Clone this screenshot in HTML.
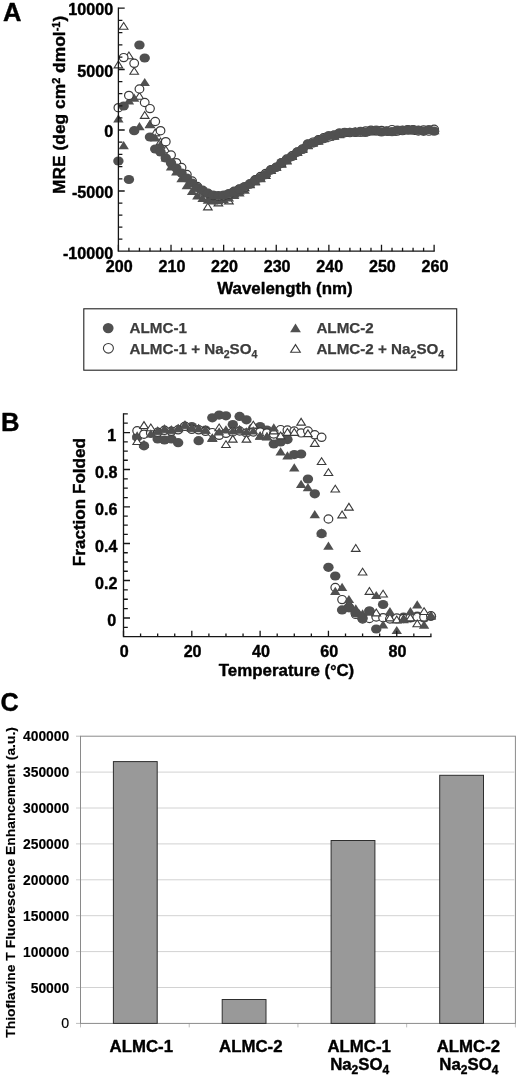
<!DOCTYPE html>
<html lang="en"><head><meta charset="utf-8"><title>Figure</title>
<style>
html,body{margin:0;padding:0;background:#fff;}
body{width:520px;height:1076px;overflow:hidden;font-family:"Liberation Sans", sans-serif;}
svg{display:block;will-change:transform;filter:grayscale(1);}
text{font-family:"Liberation Sans", sans-serif;font-weight:bold;fill:#000;stroke:#000;stroke-width:0.4px;stroke-linejoin:round;}
.t156{font-size:16.1px}.t17{font-size:17.4px}.t17x{font-size:16.9px}.t168{font-size:17.1px}.t137{font-size:13.85px;stroke-width:0.15px}.t1375{font-size:13px;stroke-width:0.15px}.t165{font-size:16.8px}
.lg{font-size:15.2px;fill:#3c3c3c;stroke:#3c3c3c;stroke-width:0.25px}.panel{fill:#000}
</style></head><body>
<svg width="520" height="1076" viewBox="0 0 520 1076">
<rect width="520" height="1076" fill="#fff"/>
<g id="panelA">
<polygon points="118.4,61.05 114.1,67.85 122.7,67.85" fill="#fff" stroke="#3a3a3a" stroke-width="1.1" stroke-linejoin="miter"/>
<polygon points="123.66,22.45 119.36,29.25 127.96,29.25" fill="#fff" stroke="#3a3a3a" stroke-width="1.1" stroke-linejoin="miter"/>
<polygon points="128.92,51.95 124.62,58.75 133.22,58.75" fill="#fff" stroke="#3a3a3a" stroke-width="1.1" stroke-linejoin="miter"/>
<polygon points="134.19,67.45 129.89,74.25 138.49,74.25" fill="#fff" stroke="#3a3a3a" stroke-width="1.1" stroke-linejoin="miter"/>
<polygon points="139.45,92.45 135.15,99.25 143.75,99.25" fill="#fff" stroke="#3a3a3a" stroke-width="1.1" stroke-linejoin="miter"/>
<polygon points="144.71,111.55 140.41,118.35 149.01,118.35" fill="#fff" stroke="#3a3a3a" stroke-width="1.1" stroke-linejoin="miter"/>
<polygon points="149.97,120.55 145.67,127.35 154.27,127.35" fill="#fff" stroke="#3a3a3a" stroke-width="1.1" stroke-linejoin="miter"/>
<polygon points="155.23,129.05 150.93,135.85 159.53,135.85" fill="#fff" stroke="#3a3a3a" stroke-width="1.1" stroke-linejoin="miter"/>
<polygon points="160.5,138.05 156.2,144.85 164.8,144.85" fill="#fff" stroke="#3a3a3a" stroke-width="1.1" stroke-linejoin="miter"/>
<polygon points="165.76,146.05 161.46,152.85 170.06,152.85" fill="#fff" stroke="#3a3a3a" stroke-width="1.1" stroke-linejoin="miter"/>
<polygon points="171.02,154.05 166.72,160.85 175.32,160.85" fill="#fff" stroke="#3a3a3a" stroke-width="1.1" stroke-linejoin="miter"/>
<polygon points="176.28,161.05 171.98,167.85 180.58,167.85" fill="#fff" stroke="#3a3a3a" stroke-width="1.1" stroke-linejoin="miter"/>
<polygon points="181.54,167.05 177.24,173.85 185.84,173.85" fill="#fff" stroke="#3a3a3a" stroke-width="1.1" stroke-linejoin="miter"/>
<polygon points="186.81,173.05 182.51,179.85 191.11,179.85" fill="#fff" stroke="#3a3a3a" stroke-width="1.1" stroke-linejoin="miter"/>
<polygon points="192.07,179.05 187.77,185.85 196.37,185.85" fill="#fff" stroke="#3a3a3a" stroke-width="1.1" stroke-linejoin="miter"/>
<polygon points="197.33,184.05 193.03,190.85 201.63,190.85" fill="#fff" stroke="#3a3a3a" stroke-width="1.1" stroke-linejoin="miter"/>
<polygon points="202.59,189.05 198.29,195.85 206.89,195.85" fill="#fff" stroke="#3a3a3a" stroke-width="1.1" stroke-linejoin="miter"/>
<polygon points="207.85,203.05 203.55,209.85 212.15,209.85" fill="#fff" stroke="#3a3a3a" stroke-width="1.1" stroke-linejoin="miter"/>
<polygon points="213.12,196.05 208.82,202.85 217.42,202.85" fill="#fff" stroke="#3a3a3a" stroke-width="1.1" stroke-linejoin="miter"/>
<polygon points="218.38,199.05 214.08,205.85 222.68,205.85" fill="#fff" stroke="#3a3a3a" stroke-width="1.1" stroke-linejoin="miter"/>
<polygon points="223.64,195.05 219.34,201.85 227.94,201.85" fill="#fff" stroke="#3a3a3a" stroke-width="1.1" stroke-linejoin="miter"/>
<polygon points="228.9,197.05 224.6,203.85 233.2,203.85" fill="#fff" stroke="#3a3a3a" stroke-width="1.1" stroke-linejoin="miter"/>
<polygon points="234.16,190.05 229.86,196.85 238.46,196.85" fill="#fff" stroke="#3a3a3a" stroke-width="1.1" stroke-linejoin="miter"/>
<polygon points="239.43,187.05 235.13,193.85 243.73,193.85" fill="#fff" stroke="#3a3a3a" stroke-width="1.1" stroke-linejoin="miter"/>
<polygon points="244.69,183.98 240.39,190.78 248.99,190.78" fill="#fff" stroke="#3a3a3a" stroke-width="1.1" stroke-linejoin="miter"/>
<polygon points="249.95,180.32 245.65,187.12 254.25,187.12" fill="#fff" stroke="#3a3a3a" stroke-width="1.1" stroke-linejoin="miter"/>
<polygon points="255.21,177.6 250.91,184.4 259.51,184.4" fill="#fff" stroke="#3a3a3a" stroke-width="1.1" stroke-linejoin="miter"/>
<polygon points="260.47,174.5 256.17,181.3 264.77,181.3" fill="#fff" stroke="#3a3a3a" stroke-width="1.1" stroke-linejoin="miter"/>
<polygon points="265.74,171.7 261.44,178.5 270.04,178.5" fill="#fff" stroke="#3a3a3a" stroke-width="1.1" stroke-linejoin="miter"/>
<polygon points="271,166.54 266.7,173.34 275.3,173.34" fill="#fff" stroke="#3a3a3a" stroke-width="1.1" stroke-linejoin="miter"/>
<polygon points="276.26,163.11 271.96,169.91 280.56,169.91" fill="#fff" stroke="#3a3a3a" stroke-width="1.1" stroke-linejoin="miter"/>
<polygon points="281.52,160.35 277.22,167.15 285.82,167.15" fill="#fff" stroke="#3a3a3a" stroke-width="1.1" stroke-linejoin="miter"/>
<polygon points="286.78,157.11 282.48,163.91 291.08,163.91" fill="#fff" stroke="#3a3a3a" stroke-width="1.1" stroke-linejoin="miter"/>
<polygon points="292.05,152.66 287.75,159.46 296.35,159.46" fill="#fff" stroke="#3a3a3a" stroke-width="1.1" stroke-linejoin="miter"/>
<polygon points="297.31,148.24 293.01,155.04 301.61,155.04" fill="#fff" stroke="#3a3a3a" stroke-width="1.1" stroke-linejoin="miter"/>
<polygon points="302.57,145.71 298.27,152.51 306.87,152.51" fill="#fff" stroke="#3a3a3a" stroke-width="1.1" stroke-linejoin="miter"/>
<polygon points="307.83,141.59 303.53,148.39 312.13,148.39" fill="#fff" stroke="#3a3a3a" stroke-width="1.1" stroke-linejoin="miter"/>
<polygon points="313.09,138.33 308.79,145.13 317.39,145.13" fill="#fff" stroke="#3a3a3a" stroke-width="1.1" stroke-linejoin="miter"/>
<polygon points="318.36,137.5 314.06,144.3 322.66,144.3" fill="#fff" stroke="#3a3a3a" stroke-width="1.1" stroke-linejoin="miter"/>
<polygon points="323.62,134.91 319.32,141.71 327.92,141.71" fill="#fff" stroke="#3a3a3a" stroke-width="1.1" stroke-linejoin="miter"/>
<polygon points="328.88,133.2 324.58,140 333.18,140" fill="#fff" stroke="#3a3a3a" stroke-width="1.1" stroke-linejoin="miter"/>
<polygon points="334.14,132.04 329.84,138.84 338.44,138.84" fill="#fff" stroke="#3a3a3a" stroke-width="1.1" stroke-linejoin="miter"/>
<polygon points="339.4,130.52 335.1,137.32 343.7,137.32" fill="#fff" stroke="#3a3a3a" stroke-width="1.1" stroke-linejoin="miter"/>
<polygon points="344.67,129.29 340.37,136.09 348.97,136.09" fill="#fff" stroke="#3a3a3a" stroke-width="1.1" stroke-linejoin="miter"/>
<polygon points="349.93,128.51 345.63,135.31 354.23,135.31" fill="#fff" stroke="#3a3a3a" stroke-width="1.1" stroke-linejoin="miter"/>
<polygon points="355.19,127.91 350.89,134.71 359.49,134.71" fill="#fff" stroke="#3a3a3a" stroke-width="1.1" stroke-linejoin="miter"/>
<polygon points="360.45,129.19 356.15,135.99 364.75,135.99" fill="#fff" stroke="#3a3a3a" stroke-width="1.1" stroke-linejoin="miter"/>
<polygon points="365.71,127.97 361.41,134.77 370.01,134.77" fill="#fff" stroke="#3a3a3a" stroke-width="1.1" stroke-linejoin="miter"/>
<polygon points="370.98,127.4 366.68,134.2 375.28,134.2" fill="#fff" stroke="#3a3a3a" stroke-width="1.1" stroke-linejoin="miter"/>
<polygon points="376.24,128.03 371.94,134.83 380.54,134.83" fill="#fff" stroke="#3a3a3a" stroke-width="1.1" stroke-linejoin="miter"/>
<polygon points="381.5,127.49 377.2,134.29 385.8,134.29" fill="#fff" stroke="#3a3a3a" stroke-width="1.1" stroke-linejoin="miter"/>
<polygon points="386.76,127.73 382.46,134.53 391.06,134.53" fill="#fff" stroke="#3a3a3a" stroke-width="1.1" stroke-linejoin="miter"/>
<polygon points="392.02,128.45 387.72,135.25 396.32,135.25" fill="#fff" stroke="#3a3a3a" stroke-width="1.1" stroke-linejoin="miter"/>
<polygon points="397.29,127.38 392.99,134.18 401.59,134.18" fill="#fff" stroke="#3a3a3a" stroke-width="1.1" stroke-linejoin="miter"/>
<polygon points="402.55,126.67 398.25,133.47 406.85,133.47" fill="#fff" stroke="#3a3a3a" stroke-width="1.1" stroke-linejoin="miter"/>
<polygon points="407.81,127.18 403.51,133.98 412.11,133.98" fill="#fff" stroke="#3a3a3a" stroke-width="1.1" stroke-linejoin="miter"/>
<polygon points="413.07,126.65 408.77,133.45 417.37,133.45" fill="#fff" stroke="#3a3a3a" stroke-width="1.1" stroke-linejoin="miter"/>
<polygon points="418.33,127.63 414.03,134.43 422.63,134.43" fill="#fff" stroke="#3a3a3a" stroke-width="1.1" stroke-linejoin="miter"/>
<polygon points="423.6,127.08 419.3,133.88 427.9,133.88" fill="#fff" stroke="#3a3a3a" stroke-width="1.1" stroke-linejoin="miter"/>
<polygon points="428.86,127.23 424.56,134.03 433.16,134.03" fill="#fff" stroke="#3a3a3a" stroke-width="1.1" stroke-linejoin="miter"/>
<polygon points="434.12,126.94 429.82,133.74 438.42,133.74" fill="#fff" stroke="#3a3a3a" stroke-width="1.1" stroke-linejoin="miter"/>
<polygon points="118.4,114.3 113.2,122.5 123.6,122.5" fill="#505050"/>
<polygon points="123.66,141.1 118.46,149.3 128.86,149.3" fill="#505050"/>
<polygon points="128.92,96.3 123.72,104.5 134.12,104.5" fill="#505050"/>
<polygon points="134.19,93.5 128.99,101.7 139.39,101.7" fill="#505050"/>
<polygon points="139.45,122 134.25,130.2 144.65,130.2" fill="#505050"/>
<polygon points="144.71,77.9 139.51,86.1 149.91,86.1" fill="#505050"/>
<polygon points="149.97,120 144.77,128.2 155.17,128.2" fill="#505050"/>
<polygon points="155.23,133.3 150.03,141.5 160.43,141.5" fill="#505050"/>
<polygon points="160.5,140.3 155.3,148.5 165.7,148.5" fill="#505050"/>
<polygon points="165.76,153.3 160.56,161.5 170.96,161.5" fill="#505050"/>
<polygon points="171.02,162.3 165.82,170.5 176.22,170.5" fill="#505050"/>
<polygon points="176.28,167.3 171.08,175.5 181.48,175.5" fill="#505050"/>
<polygon points="181.54,174.1 176.34,182.3 186.74,182.3" fill="#505050"/>
<polygon points="186.81,181.1 181.61,189.3 192.01,189.3" fill="#505050"/>
<polygon points="192.07,186.8 186.87,195 197.27,195" fill="#505050"/>
<polygon points="197.33,191.3 192.13,199.5 202.53,199.5" fill="#505050"/>
<polygon points="202.59,193.8 197.39,202 207.79,202" fill="#505050"/>
<polygon points="207.85,195.6 202.65,203.8 213.05,203.8" fill="#505050"/>
<polygon points="213.12,196.3 207.92,204.5 218.32,204.5" fill="#505050"/>
<polygon points="218.38,196.1 213.18,204.3 223.58,204.3" fill="#505050"/>
<polygon points="223.64,194.9 218.44,203.1 228.84,203.1" fill="#505050"/>
<polygon points="228.9,193.3 223.7,201.5 234.1,201.5" fill="#505050"/>
<polygon points="234.16,190.9 228.96,199.1 239.36,199.1" fill="#505050"/>
<polygon points="239.43,188.3 234.23,196.5 244.63,196.5" fill="#505050"/>
<polygon points="244.69,185.5 239.49,193.7 249.89,193.7" fill="#505050"/>
<polygon points="249.95,179.97 244.75,188.17 255.15,188.17" fill="#505050"/>
<polygon points="255.21,177.25 250.01,185.45 260.41,185.45" fill="#505050"/>
<polygon points="260.47,174 255.27,182.2 265.67,182.2" fill="#505050"/>
<polygon points="265.74,168.69 260.54,176.89 270.94,176.89" fill="#505050"/>
<polygon points="271,165.34 265.8,173.54 276.2,173.54" fill="#505050"/>
<polygon points="276.26,162.76 271.06,170.96 281.46,170.96" fill="#505050"/>
<polygon points="281.52,158.23 276.32,166.43 286.72,166.43" fill="#505050"/>
<polygon points="286.78,155.46 281.58,163.66 291.98,163.66" fill="#505050"/>
<polygon points="292.05,151.2 286.85,159.4 297.25,159.4" fill="#505050"/>
<polygon points="297.31,147.75 292.11,155.95 302.51,155.95" fill="#505050"/>
<polygon points="302.57,143.68 297.37,151.88 307.77,151.88" fill="#505050"/>
<polygon points="307.83,141.11 302.63,149.31 313.03,149.31" fill="#505050"/>
<polygon points="313.09,138.44 307.89,146.64 318.29,146.64" fill="#505050"/>
<polygon points="318.36,135.23 313.16,143.43 323.56,143.43" fill="#505050"/>
<polygon points="323.62,133.51 318.42,141.71 328.82,141.71" fill="#505050"/>
<polygon points="328.88,132.43 323.68,140.63 334.08,140.63" fill="#505050"/>
<polygon points="334.14,131.59 328.94,139.79 339.34,139.79" fill="#505050"/>
<polygon points="339.4,129.94 334.2,138.14 344.6,138.14" fill="#505050"/>
<polygon points="344.67,128.03 339.47,136.23 349.87,136.23" fill="#505050"/>
<polygon points="349.93,127.6 344.73,135.8 355.13,135.8" fill="#505050"/>
<polygon points="355.19,127.5 349.99,135.7 360.39,135.7" fill="#505050"/>
<polygon points="360.45,128.13 355.25,136.33 365.65,136.33" fill="#505050"/>
<polygon points="365.71,127.87 360.51,136.07 370.91,136.07" fill="#505050"/>
<polygon points="370.98,126.36 365.78,134.56 376.18,134.56" fill="#505050"/>
<polygon points="376.24,126.23 371.04,134.43 381.44,134.43" fill="#505050"/>
<polygon points="381.5,126.73 376.3,134.93 386.7,134.93" fill="#505050"/>
<polygon points="386.76,126.79 381.56,134.99 391.96,134.99" fill="#505050"/>
<polygon points="392.02,127.06 386.82,135.26 397.22,135.26" fill="#505050"/>
<polygon points="397.29,126.25 392.09,134.45 402.49,134.45" fill="#505050"/>
<polygon points="402.55,125.53 397.35,133.73 407.75,133.73" fill="#505050"/>
<polygon points="407.81,125.46 402.61,133.66 413.01,133.66" fill="#505050"/>
<polygon points="413.07,126.03 407.87,134.23 418.27,134.23" fill="#505050"/>
<polygon points="418.33,125.55 413.13,133.75 423.53,133.75" fill="#505050"/>
<polygon points="423.6,125.45 418.4,133.65 428.8,133.65" fill="#505050"/>
<polygon points="428.86,126.12 423.66,134.32 434.06,134.32" fill="#505050"/>
<polygon points="434.12,125.63 428.92,133.83 439.32,133.83" fill="#505050"/>
<ellipse cx="118.4" cy="107.7" rx="4.35" ry="4.1" fill="#fff" stroke="#3a3a3a" stroke-width="1.2"/>
<ellipse cx="123.66" cy="57.6" rx="4.35" ry="4.1" fill="#fff" stroke="#3a3a3a" stroke-width="1.2"/>
<ellipse cx="128.92" cy="95.4" rx="4.35" ry="4.1" fill="#fff" stroke="#3a3a3a" stroke-width="1.2"/>
<ellipse cx="134.19" cy="63.3" rx="4.35" ry="4.1" fill="#fff" stroke="#3a3a3a" stroke-width="1.2"/>
<ellipse cx="139.45" cy="89" rx="4.35" ry="4.1" fill="#fff" stroke="#3a3a3a" stroke-width="1.2"/>
<ellipse cx="144.71" cy="102.5" rx="4.35" ry="4.1" fill="#fff" stroke="#3a3a3a" stroke-width="1.2"/>
<ellipse cx="149.97" cy="108.6" rx="4.35" ry="4.1" fill="#fff" stroke="#3a3a3a" stroke-width="1.2"/>
<ellipse cx="155.23" cy="121.5" rx="4.35" ry="4.1" fill="#fff" stroke="#3a3a3a" stroke-width="1.2"/>
<ellipse cx="160.5" cy="130.7" rx="4.35" ry="4.1" fill="#fff" stroke="#3a3a3a" stroke-width="1.2"/>
<ellipse cx="165.76" cy="141.7" rx="4.35" ry="4.1" fill="#fff" stroke="#3a3a3a" stroke-width="1.2"/>
<ellipse cx="171.02" cy="155" rx="4.35" ry="4.1" fill="#fff" stroke="#3a3a3a" stroke-width="1.2"/>
<ellipse cx="176.28" cy="162.7" rx="4.35" ry="4.1" fill="#fff" stroke="#3a3a3a" stroke-width="1.2"/>
<ellipse cx="181.54" cy="167.5" rx="4.35" ry="4.1" fill="#fff" stroke="#3a3a3a" stroke-width="1.2"/>
<ellipse cx="186.81" cy="174.5" rx="4.35" ry="4.1" fill="#fff" stroke="#3a3a3a" stroke-width="1.2"/>
<ellipse cx="192.07" cy="181" rx="4.35" ry="4.1" fill="#fff" stroke="#3a3a3a" stroke-width="1.2"/>
<ellipse cx="197.33" cy="186.5" rx="4.35" ry="4.1" fill="#fff" stroke="#3a3a3a" stroke-width="1.2"/>
<ellipse cx="202.59" cy="190.3" rx="4.35" ry="4.1" fill="#fff" stroke="#3a3a3a" stroke-width="1.2"/>
<ellipse cx="207.85" cy="193.5" rx="4.35" ry="4.1" fill="#fff" stroke="#3a3a3a" stroke-width="1.2"/>
<ellipse cx="213.12" cy="195.6" rx="4.35" ry="4.1" fill="#fff" stroke="#3a3a3a" stroke-width="1.2"/>
<ellipse cx="218.38" cy="196.2" rx="4.35" ry="4.1" fill="#fff" stroke="#3a3a3a" stroke-width="1.2"/>
<ellipse cx="223.64" cy="195.8" rx="4.35" ry="4.1" fill="#fff" stroke="#3a3a3a" stroke-width="1.2"/>
<ellipse cx="228.9" cy="194.3" rx="4.35" ry="4.1" fill="#fff" stroke="#3a3a3a" stroke-width="1.2"/>
<ellipse cx="234.16" cy="191.25" rx="4.35" ry="4.1" fill="#fff" stroke="#3a3a3a" stroke-width="1.2"/>
<ellipse cx="239.43" cy="188.9" rx="4.35" ry="4.1" fill="#fff" stroke="#3a3a3a" stroke-width="1.2"/>
<ellipse cx="244.69" cy="187.17" rx="4.35" ry="4.1" fill="#fff" stroke="#3a3a3a" stroke-width="1.2"/>
<ellipse cx="249.95" cy="184.11" rx="4.35" ry="4.1" fill="#fff" stroke="#3a3a3a" stroke-width="1.2"/>
<ellipse cx="255.21" cy="179.78" rx="4.35" ry="4.1" fill="#fff" stroke="#3a3a3a" stroke-width="1.2"/>
<ellipse cx="260.47" cy="176.55" rx="4.35" ry="4.1" fill="#fff" stroke="#3a3a3a" stroke-width="1.2"/>
<ellipse cx="265.74" cy="173.39" rx="4.35" ry="4.1" fill="#fff" stroke="#3a3a3a" stroke-width="1.2"/>
<ellipse cx="271" cy="169.68" rx="4.35" ry="4.1" fill="#fff" stroke="#3a3a3a" stroke-width="1.2"/>
<ellipse cx="276.26" cy="167.23" rx="4.35" ry="4.1" fill="#fff" stroke="#3a3a3a" stroke-width="1.2"/>
<ellipse cx="281.52" cy="162.84" rx="4.35" ry="4.1" fill="#fff" stroke="#3a3a3a" stroke-width="1.2"/>
<ellipse cx="286.78" cy="159.01" rx="4.35" ry="4.1" fill="#fff" stroke="#3a3a3a" stroke-width="1.2"/>
<ellipse cx="292.05" cy="155.77" rx="4.35" ry="4.1" fill="#fff" stroke="#3a3a3a" stroke-width="1.2"/>
<ellipse cx="297.31" cy="152" rx="4.35" ry="4.1" fill="#fff" stroke="#3a3a3a" stroke-width="1.2"/>
<ellipse cx="302.57" cy="148.85" rx="4.35" ry="4.1" fill="#fff" stroke="#3a3a3a" stroke-width="1.2"/>
<ellipse cx="307.83" cy="143.84" rx="4.35" ry="4.1" fill="#fff" stroke="#3a3a3a" stroke-width="1.2"/>
<ellipse cx="313.09" cy="142.08" rx="4.35" ry="4.1" fill="#fff" stroke="#3a3a3a" stroke-width="1.2"/>
<ellipse cx="318.36" cy="139.75" rx="4.35" ry="4.1" fill="#fff" stroke="#3a3a3a" stroke-width="1.2"/>
<ellipse cx="323.62" cy="137.79" rx="4.35" ry="4.1" fill="#fff" stroke="#3a3a3a" stroke-width="1.2"/>
<ellipse cx="328.88" cy="136.99" rx="4.35" ry="4.1" fill="#fff" stroke="#3a3a3a" stroke-width="1.2"/>
<ellipse cx="334.14" cy="135" rx="4.35" ry="4.1" fill="#fff" stroke="#3a3a3a" stroke-width="1.2"/>
<ellipse cx="339.4" cy="133.17" rx="4.35" ry="4.1" fill="#fff" stroke="#3a3a3a" stroke-width="1.2"/>
<ellipse cx="344.67" cy="132.72" rx="4.35" ry="4.1" fill="#fff" stroke="#3a3a3a" stroke-width="1.2"/>
<ellipse cx="349.93" cy="132.64" rx="4.35" ry="4.1" fill="#fff" stroke="#3a3a3a" stroke-width="1.2"/>
<ellipse cx="355.19" cy="132.34" rx="4.35" ry="4.1" fill="#fff" stroke="#3a3a3a" stroke-width="1.2"/>
<ellipse cx="360.45" cy="132.17" rx="4.35" ry="4.1" fill="#fff" stroke="#3a3a3a" stroke-width="1.2"/>
<ellipse cx="365.71" cy="130.93" rx="4.35" ry="4.1" fill="#fff" stroke="#3a3a3a" stroke-width="1.2"/>
<ellipse cx="370.98" cy="130.2" rx="4.35" ry="4.1" fill="#fff" stroke="#3a3a3a" stroke-width="1.2"/>
<ellipse cx="376.24" cy="130.67" rx="4.35" ry="4.1" fill="#fff" stroke="#3a3a3a" stroke-width="1.2"/>
<ellipse cx="381.5" cy="130.44" rx="4.35" ry="4.1" fill="#fff" stroke="#3a3a3a" stroke-width="1.2"/>
<ellipse cx="386.76" cy="130.93" rx="4.35" ry="4.1" fill="#fff" stroke="#3a3a3a" stroke-width="1.2"/>
<ellipse cx="392.02" cy="129.61" rx="4.35" ry="4.1" fill="#fff" stroke="#3a3a3a" stroke-width="1.2"/>
<ellipse cx="397.29" cy="131.05" rx="4.35" ry="4.1" fill="#fff" stroke="#3a3a3a" stroke-width="1.2"/>
<ellipse cx="402.55" cy="130.67" rx="4.35" ry="4.1" fill="#fff" stroke="#3a3a3a" stroke-width="1.2"/>
<ellipse cx="407.81" cy="129.67" rx="4.35" ry="4.1" fill="#fff" stroke="#3a3a3a" stroke-width="1.2"/>
<ellipse cx="413.07" cy="129.6" rx="4.35" ry="4.1" fill="#fff" stroke="#3a3a3a" stroke-width="1.2"/>
<ellipse cx="418.33" cy="131" rx="4.35" ry="4.1" fill="#fff" stroke="#3a3a3a" stroke-width="1.2"/>
<ellipse cx="423.6" cy="129.89" rx="4.35" ry="4.1" fill="#fff" stroke="#3a3a3a" stroke-width="1.2"/>
<ellipse cx="428.86" cy="131.14" rx="4.35" ry="4.1" fill="#fff" stroke="#3a3a3a" stroke-width="1.2"/>
<ellipse cx="434.12" cy="129.3" rx="4.35" ry="4.1" fill="#fff" stroke="#3a3a3a" stroke-width="1.2"/>
<ellipse cx="118.4" cy="161" rx="5.2" ry="4.6" fill="#505050"/>
<ellipse cx="123.66" cy="106" rx="5.2" ry="4.6" fill="#505050"/>
<ellipse cx="128.92" cy="179.5" rx="5.2" ry="4.6" fill="#505050"/>
<ellipse cx="134.19" cy="130.7" rx="5.2" ry="4.6" fill="#505050"/>
<ellipse cx="139.45" cy="45" rx="5.2" ry="4.6" fill="#505050"/>
<ellipse cx="144.71" cy="58" rx="5.2" ry="4.6" fill="#505050"/>
<ellipse cx="149.97" cy="137" rx="5.2" ry="4.6" fill="#505050"/>
<ellipse cx="155.23" cy="149" rx="5.2" ry="4.6" fill="#505050"/>
<ellipse cx="160.5" cy="152" rx="5.2" ry="4.6" fill="#505050"/>
<ellipse cx="165.76" cy="158" rx="5.2" ry="4.6" fill="#505050"/>
<ellipse cx="171.02" cy="163" rx="5.2" ry="4.6" fill="#505050"/>
<ellipse cx="176.28" cy="168" rx="5.2" ry="4.6" fill="#505050"/>
<ellipse cx="181.54" cy="173" rx="5.2" ry="4.6" fill="#505050"/>
<ellipse cx="186.81" cy="178" rx="5.2" ry="4.6" fill="#505050"/>
<ellipse cx="192.07" cy="183" rx="5.2" ry="4.6" fill="#505050"/>
<ellipse cx="197.33" cy="187.5" rx="5.2" ry="4.6" fill="#505050"/>
<ellipse cx="202.59" cy="190.5" rx="5.2" ry="4.6" fill="#505050"/>
<ellipse cx="207.85" cy="193.2" rx="5.2" ry="4.6" fill="#505050"/>
<ellipse cx="213.12" cy="195" rx="5.2" ry="4.6" fill="#505050"/>
<ellipse cx="218.38" cy="195.5" rx="5.2" ry="4.6" fill="#505050"/>
<ellipse cx="223.64" cy="195" rx="5.2" ry="4.6" fill="#505050"/>
<ellipse cx="228.9" cy="193.5" rx="5.2" ry="4.6" fill="#505050"/>
<ellipse cx="234.16" cy="191.6" rx="5.2" ry="4.6" fill="#505050"/>
<ellipse cx="239.43" cy="189.14" rx="5.2" ry="4.6" fill="#505050"/>
<ellipse cx="244.69" cy="186.62" rx="5.2" ry="4.6" fill="#505050"/>
<ellipse cx="249.95" cy="183.64" rx="5.2" ry="4.6" fill="#505050"/>
<ellipse cx="255.21" cy="180.25" rx="5.2" ry="4.6" fill="#505050"/>
<ellipse cx="260.47" cy="177.65" rx="5.2" ry="4.6" fill="#505050"/>
<ellipse cx="265.74" cy="174.72" rx="5.2" ry="4.6" fill="#505050"/>
<ellipse cx="271" cy="170.12" rx="5.2" ry="4.6" fill="#505050"/>
<ellipse cx="276.26" cy="167.28" rx="5.2" ry="4.6" fill="#505050"/>
<ellipse cx="281.52" cy="162.62" rx="5.2" ry="4.6" fill="#505050"/>
<ellipse cx="286.78" cy="159.63" rx="5.2" ry="4.6" fill="#505050"/>
<ellipse cx="292.05" cy="156.59" rx="5.2" ry="4.6" fill="#505050"/>
<ellipse cx="297.31" cy="152.05" rx="5.2" ry="4.6" fill="#505050"/>
<ellipse cx="302.57" cy="149.46" rx="5.2" ry="4.6" fill="#505050"/>
<ellipse cx="307.83" cy="144.3" rx="5.2" ry="4.6" fill="#505050"/>
<ellipse cx="313.09" cy="143.03" rx="5.2" ry="4.6" fill="#505050"/>
<ellipse cx="318.36" cy="140.39" rx="5.2" ry="4.6" fill="#505050"/>
<ellipse cx="323.62" cy="138.68" rx="5.2" ry="4.6" fill="#505050"/>
<ellipse cx="328.88" cy="135.62" rx="5.2" ry="4.6" fill="#505050"/>
<ellipse cx="334.14" cy="135.64" rx="5.2" ry="4.6" fill="#505050"/>
<ellipse cx="339.4" cy="133.05" rx="5.2" ry="4.6" fill="#505050"/>
<ellipse cx="344.67" cy="132.32" rx="5.2" ry="4.6" fill="#505050"/>
<ellipse cx="349.93" cy="132.28" rx="5.2" ry="4.6" fill="#505050"/>
<ellipse cx="355.19" cy="132.1" rx="5.2" ry="4.6" fill="#505050"/>
<ellipse cx="360.45" cy="131.36" rx="5.2" ry="4.6" fill="#505050"/>
<ellipse cx="365.71" cy="132.42" rx="5.2" ry="4.6" fill="#505050"/>
<ellipse cx="370.98" cy="130.77" rx="5.2" ry="4.6" fill="#505050"/>
<ellipse cx="376.24" cy="130.11" rx="5.2" ry="4.6" fill="#505050"/>
<ellipse cx="381.5" cy="131.91" rx="5.2" ry="4.6" fill="#505050"/>
<ellipse cx="386.76" cy="131.3" rx="5.2" ry="4.6" fill="#505050"/>
<ellipse cx="392.02" cy="131.65" rx="5.2" ry="4.6" fill="#505050"/>
<ellipse cx="397.29" cy="130.06" rx="5.2" ry="4.6" fill="#505050"/>
<ellipse cx="402.55" cy="130.22" rx="5.2" ry="4.6" fill="#505050"/>
<ellipse cx="407.81" cy="129.75" rx="5.2" ry="4.6" fill="#505050"/>
<ellipse cx="413.07" cy="129.75" rx="5.2" ry="4.6" fill="#505050"/>
<ellipse cx="418.33" cy="130.15" rx="5.2" ry="4.6" fill="#505050"/>
<ellipse cx="423.6" cy="131.3" rx="5.2" ry="4.6" fill="#505050"/>
<ellipse cx="428.86" cy="129.72" rx="5.2" ry="4.6" fill="#505050"/>
<ellipse cx="434.12" cy="131.16" rx="5.2" ry="4.6" fill="#505050"/>
<path d="M118.4 7.5 V251.2 H434.72" fill="none" stroke="#161616" stroke-width="1.3"/>
<path d="M118.4 8.1h6.3M118.4 20.38h4M118.4 32.66h4M118.4 44.94h4M118.4 57.22h4M118.4 69.5h6.3M118.4 81.6h4M118.4 93.7h4M118.4 105.8h4M118.4 117.9h4M118.4 130h6.3M118.4 142.2h4M118.4 154.4h4M118.4 166.6h4M118.4 178.8h4M118.4 191h6.3M118.4 203.03h4M118.4 215.06h4M118.4 227.09h4M118.4 239.12h4M118.4 251.2v-6.4M128.92 251.2v-3.4M139.45 251.2v-3.4M149.97 251.2v-3.4M160.5 251.2v-3.4M171.02 251.2v-6.4M181.54 251.2v-3.4M192.07 251.2v-3.4M202.59 251.2v-3.4M213.12 251.2v-3.4M223.64 251.2v-6.4M234.16 251.2v-3.4M244.69 251.2v-3.4M255.21 251.2v-3.4M265.74 251.2v-3.4M276.26 251.2v-6.4M286.78 251.2v-3.4M297.31 251.2v-3.4M307.83 251.2v-3.4M318.36 251.2v-3.4M328.88 251.2v-6.4M339.4 251.2v-3.4M349.93 251.2v-3.4M360.45 251.2v-3.4M370.98 251.2v-3.4M381.5 251.2v-6.4M392.02 251.2v-3.4M402.55 251.2v-3.4M413.07 251.2v-3.4M423.6 251.2v-3.4M434.12 251.2v-6.4" fill="none" stroke="#161616" stroke-width="1.3"/>
<text x="113.1" y="15.2" text-anchor="end" class="t156">10000</text>
<text x="113.1" y="76.6" text-anchor="end" class="t156">5000</text>
<text x="113.1" y="137.1" text-anchor="end" class="t156">0</text>
<text x="113.1" y="198.1" text-anchor="end" class="t156">-5000</text>
<text x="113.1" y="259.35" text-anchor="end" class="t156">-10000</text>
<text x="119.3" y="272.1" text-anchor="middle" class="t156">200</text>
<text x="171.92" y="272.1" text-anchor="middle" class="t156">210</text>
<text x="224.54" y="272.1" text-anchor="middle" class="t156">220</text>
<text x="277.16" y="272.1" text-anchor="middle" class="t156">230</text>
<text x="329.78" y="272.1" text-anchor="middle" class="t156">240</text>
<text x="382.4" y="272.1" text-anchor="middle" class="t156">250</text>
<text x="435.02" y="272.1" text-anchor="middle" class="t156">260</text>
<text x="285" y="294.2" text-anchor="middle" class="t17x">Wavelength (nm)</text>
<text transform="translate(65.4 104.9) rotate(-90)" text-anchor="middle" class="t17">MRE (deg cm<tspan dy="-5.5" font-size="11">2</tspan><tspan dy="5.5"> dmol</tspan><tspan dy="-5.5" font-size="11">-1</tspan><tspan dy="5.5">)</tspan></text>
<text x="3" y="20.8" class="panel" font-size="25.5">A</text>
</g>
<g id="legend">
<rect x="83.8" y="308.8" width="372.9" height="61.4" fill="#fff" stroke="#222" stroke-width="1.1"/>
<ellipse cx="108.2" cy="328.1" rx="5.4" ry="5.2" fill="#505050"/>
<ellipse cx="108.4" cy="348.3" rx="5" ry="4.8" fill="#fff" stroke="#3a3a3a" stroke-width="1.1"/>
<polygon points="295.5,323.6 290.1,332.2 300.9,332.2" fill="#505050"/>
<polygon points="295.5,344.6 290.7,352.2 300.3,352.2" fill="#fff" stroke="#3a3a3a" stroke-width="1.1"/>
<text x="129.6" y="333.3" class="lg">ALMC-1</text>
<text x="129.6" y="354.4" class="lg">ALMC-1 + Na<tspan dy="3.5" font-size="10.6">2</tspan><tspan dy="-3.5">SO</tspan><tspan dy="3.5" font-size="10.6">4</tspan></text>
<text x="316.4" y="333.3" class="lg">ALMC-2</text>
<text x="316.4" y="354.4" class="lg">ALMC-2 + Na<tspan dy="3.5" font-size="10.6">2</tspan><tspan dy="-3.5">SO</tspan><tspan dy="3.5" font-size="10.6">4</tspan></text>
</g>
<g id="panelB">
<ellipse cx="137.16" cy="437" rx="5.2" ry="4.6" fill="#505050"/>
<ellipse cx="143.99" cy="445.8" rx="5.2" ry="4.6" fill="#505050"/>
<ellipse cx="150.82" cy="433" rx="5.2" ry="4.6" fill="#505050"/>
<ellipse cx="157.66" cy="439" rx="5.2" ry="4.6" fill="#505050"/>
<ellipse cx="164.49" cy="440" rx="5.2" ry="4.6" fill="#505050"/>
<ellipse cx="171.32" cy="439" rx="5.2" ry="4.6" fill="#505050"/>
<ellipse cx="178.15" cy="442.7" rx="5.2" ry="4.6" fill="#505050"/>
<ellipse cx="184.98" cy="426.5" rx="5.2" ry="4.6" fill="#505050"/>
<ellipse cx="191.81" cy="426.5" rx="5.2" ry="4.6" fill="#505050"/>
<ellipse cx="198.64" cy="440.7" rx="5.2" ry="4.6" fill="#505050"/>
<ellipse cx="205.47" cy="430" rx="5.2" ry="4.6" fill="#505050"/>
<ellipse cx="212.31" cy="417.8" rx="5.2" ry="4.6" fill="#505050"/>
<ellipse cx="219.14" cy="415.1" rx="5.2" ry="4.6" fill="#505050"/>
<ellipse cx="225.97" cy="415.8" rx="5.2" ry="4.6" fill="#505050"/>
<ellipse cx="232.8" cy="424.5" rx="5.2" ry="4.6" fill="#505050"/>
<ellipse cx="239.63" cy="416.4" rx="5.2" ry="4.6" fill="#505050"/>
<ellipse cx="246.46" cy="419.8" rx="5.2" ry="4.6" fill="#505050"/>
<ellipse cx="253.29" cy="428" rx="5.2" ry="4.6" fill="#505050"/>
<ellipse cx="260.12" cy="426.5" rx="5.2" ry="4.6" fill="#505050"/>
<ellipse cx="266.96" cy="430" rx="5.2" ry="4.6" fill="#505050"/>
<ellipse cx="273.79" cy="444" rx="5.2" ry="4.6" fill="#505050"/>
<ellipse cx="280.62" cy="442" rx="5.2" ry="4.6" fill="#505050"/>
<ellipse cx="287.45" cy="439.6" rx="5.2" ry="4.6" fill="#505050"/>
<ellipse cx="294.28" cy="454.6" rx="5.2" ry="4.6" fill="#505050"/>
<ellipse cx="301.11" cy="454" rx="5.2" ry="4.6" fill="#505050"/>
<ellipse cx="307.94" cy="479" rx="5.2" ry="4.6" fill="#505050"/>
<ellipse cx="314.77" cy="493.8" rx="5.2" ry="4.6" fill="#505050"/>
<ellipse cx="321.6" cy="533.7" rx="5.2" ry="4.6" fill="#505050"/>
<ellipse cx="328.44" cy="567.3" rx="5.2" ry="4.6" fill="#505050"/>
<ellipse cx="335.27" cy="576" rx="5.2" ry="4.6" fill="#505050"/>
<ellipse cx="342.1" cy="609.9" rx="5.2" ry="4.6" fill="#505050"/>
<ellipse cx="348.93" cy="607.7" rx="5.2" ry="4.6" fill="#505050"/>
<ellipse cx="355.76" cy="613" rx="5.2" ry="4.6" fill="#505050"/>
<ellipse cx="362.59" cy="618.5" rx="5.2" ry="4.6" fill="#505050"/>
<ellipse cx="369.42" cy="611" rx="5.2" ry="4.6" fill="#505050"/>
<ellipse cx="376.25" cy="629" rx="5.2" ry="4.6" fill="#505050"/>
<ellipse cx="383.09" cy="604.5" rx="5.2" ry="4.6" fill="#505050"/>
<ellipse cx="389.92" cy="618" rx="5.2" ry="4.6" fill="#505050"/>
<ellipse cx="396.75" cy="619" rx="5.2" ry="4.6" fill="#505050"/>
<ellipse cx="403.58" cy="617" rx="5.2" ry="4.6" fill="#505050"/>
<ellipse cx="410.41" cy="618" rx="5.2" ry="4.6" fill="#505050"/>
<ellipse cx="417.24" cy="616" rx="5.2" ry="4.6" fill="#505050"/>
<ellipse cx="424.07" cy="618" rx="5.2" ry="4.6" fill="#505050"/>
<ellipse cx="430.9" cy="616.3" rx="5.2" ry="4.6" fill="#505050"/>
<ellipse cx="137.16" cy="430.8" rx="4.35" ry="4.1" fill="#fff" stroke="#3a3a3a" stroke-width="1.2"/>
<ellipse cx="143.99" cy="434.2" rx="4.35" ry="4.1" fill="#fff" stroke="#3a3a3a" stroke-width="1.2"/>
<ellipse cx="150.82" cy="433" rx="4.35" ry="4.1" fill="#fff" stroke="#3a3a3a" stroke-width="1.2"/>
<ellipse cx="157.66" cy="432.3" rx="4.35" ry="4.1" fill="#fff" stroke="#3a3a3a" stroke-width="1.2"/>
<ellipse cx="164.49" cy="430.3" rx="4.35" ry="4.1" fill="#fff" stroke="#3a3a3a" stroke-width="1.2"/>
<ellipse cx="171.32" cy="431.3" rx="4.35" ry="4.1" fill="#fff" stroke="#3a3a3a" stroke-width="1.2"/>
<ellipse cx="178.15" cy="429.8" rx="4.35" ry="4.1" fill="#fff" stroke="#3a3a3a" stroke-width="1.2"/>
<ellipse cx="184.98" cy="426.3" rx="4.35" ry="4.1" fill="#fff" stroke="#3a3a3a" stroke-width="1.2"/>
<ellipse cx="191.81" cy="429.3" rx="4.35" ry="4.1" fill="#fff" stroke="#3a3a3a" stroke-width="1.2"/>
<ellipse cx="198.64" cy="429.8" rx="4.35" ry="4.1" fill="#fff" stroke="#3a3a3a" stroke-width="1.2"/>
<ellipse cx="205.47" cy="431.3" rx="4.35" ry="4.1" fill="#fff" stroke="#3a3a3a" stroke-width="1.2"/>
<ellipse cx="212.31" cy="432.6" rx="4.35" ry="4.1" fill="#fff" stroke="#3a3a3a" stroke-width="1.2"/>
<ellipse cx="219.14" cy="435.3" rx="4.35" ry="4.1" fill="#fff" stroke="#3a3a3a" stroke-width="1.2"/>
<ellipse cx="225.97" cy="433.3" rx="4.35" ry="4.1" fill="#fff" stroke="#3a3a3a" stroke-width="1.2"/>
<ellipse cx="232.8" cy="432" rx="4.35" ry="4.1" fill="#fff" stroke="#3a3a3a" stroke-width="1.2"/>
<ellipse cx="239.63" cy="431" rx="4.35" ry="4.1" fill="#fff" stroke="#3a3a3a" stroke-width="1.2"/>
<ellipse cx="246.46" cy="433" rx="4.35" ry="4.1" fill="#fff" stroke="#3a3a3a" stroke-width="1.2"/>
<ellipse cx="253.29" cy="432" rx="4.35" ry="4.1" fill="#fff" stroke="#3a3a3a" stroke-width="1.2"/>
<ellipse cx="260.12" cy="432" rx="4.35" ry="4.1" fill="#fff" stroke="#3a3a3a" stroke-width="1.2"/>
<ellipse cx="266.96" cy="433" rx="4.35" ry="4.1" fill="#fff" stroke="#3a3a3a" stroke-width="1.2"/>
<ellipse cx="273.79" cy="434" rx="4.35" ry="4.1" fill="#fff" stroke="#3a3a3a" stroke-width="1.2"/>
<ellipse cx="280.62" cy="429.6" rx="4.35" ry="4.1" fill="#fff" stroke="#3a3a3a" stroke-width="1.2"/>
<ellipse cx="287.45" cy="430" rx="4.35" ry="4.1" fill="#fff" stroke="#3a3a3a" stroke-width="1.2"/>
<ellipse cx="294.28" cy="431" rx="4.35" ry="4.1" fill="#fff" stroke="#3a3a3a" stroke-width="1.2"/>
<ellipse cx="301.11" cy="432.9" rx="4.35" ry="4.1" fill="#fff" stroke="#3a3a3a" stroke-width="1.2"/>
<ellipse cx="307.94" cy="431" rx="4.35" ry="4.1" fill="#fff" stroke="#3a3a3a" stroke-width="1.2"/>
<ellipse cx="314.77" cy="434.8" rx="4.35" ry="4.1" fill="#fff" stroke="#3a3a3a" stroke-width="1.2"/>
<ellipse cx="321.6" cy="437.3" rx="4.35" ry="4.1" fill="#fff" stroke="#3a3a3a" stroke-width="1.2"/>
<ellipse cx="328.44" cy="519" rx="4.35" ry="4.1" fill="#fff" stroke="#3a3a3a" stroke-width="1.2"/>
<ellipse cx="335.27" cy="587.5" rx="4.35" ry="4.1" fill="#fff" stroke="#3a3a3a" stroke-width="1.2"/>
<ellipse cx="342.1" cy="599.6" rx="4.35" ry="4.1" fill="#fff" stroke="#3a3a3a" stroke-width="1.2"/>
<ellipse cx="348.93" cy="607" rx="4.35" ry="4.1" fill="#fff" stroke="#3a3a3a" stroke-width="1.2"/>
<ellipse cx="355.76" cy="614.4" rx="4.35" ry="4.1" fill="#fff" stroke="#3a3a3a" stroke-width="1.2"/>
<ellipse cx="362.59" cy="619" rx="4.35" ry="4.1" fill="#fff" stroke="#3a3a3a" stroke-width="1.2"/>
<ellipse cx="369.42" cy="618.5" rx="4.35" ry="4.1" fill="#fff" stroke="#3a3a3a" stroke-width="1.2"/>
<ellipse cx="376.25" cy="617" rx="4.35" ry="4.1" fill="#fff" stroke="#3a3a3a" stroke-width="1.2"/>
<ellipse cx="383.09" cy="617.7" rx="4.35" ry="4.1" fill="#fff" stroke="#3a3a3a" stroke-width="1.2"/>
<ellipse cx="389.92" cy="619" rx="4.35" ry="4.1" fill="#fff" stroke="#3a3a3a" stroke-width="1.2"/>
<ellipse cx="396.75" cy="618" rx="4.35" ry="4.1" fill="#fff" stroke="#3a3a3a" stroke-width="1.2"/>
<ellipse cx="403.58" cy="618.5" rx="4.35" ry="4.1" fill="#fff" stroke="#3a3a3a" stroke-width="1.2"/>
<ellipse cx="410.41" cy="617.5" rx="4.35" ry="4.1" fill="#fff" stroke="#3a3a3a" stroke-width="1.2"/>
<ellipse cx="417.24" cy="617" rx="4.35" ry="4.1" fill="#fff" stroke="#3a3a3a" stroke-width="1.2"/>
<ellipse cx="424.07" cy="617" rx="4.35" ry="4.1" fill="#fff" stroke="#3a3a3a" stroke-width="1.2"/>
<ellipse cx="430.9" cy="615.8" rx="4.35" ry="4.1" fill="#fff" stroke="#3a3a3a" stroke-width="1.2"/>
<ellipse cx="348.93" cy="607.7" rx="5.2" ry="4.6" fill="#505050"/>
<ellipse cx="355.76" cy="613" rx="5.2" ry="4.6" fill="#505050"/>
<ellipse cx="362.59" cy="618.5" rx="5.2" ry="4.6" fill="#505050"/>
<ellipse cx="369.42" cy="611" rx="5.2" ry="4.6" fill="#505050"/>
<polygon points="137.16,437.75 132.86,444.55 141.46,444.55" fill="#fff" stroke="#3a3a3a" stroke-width="1.1" stroke-linejoin="miter"/>
<polygon points="143.99,421.65 139.69,428.45 148.29,428.45" fill="#fff" stroke="#3a3a3a" stroke-width="1.1" stroke-linejoin="miter"/>
<polygon points="150.82,423.95 146.52,430.75 155.12,430.75" fill="#fff" stroke="#3a3a3a" stroke-width="1.1" stroke-linejoin="miter"/>
<polygon points="157.66,427.45 153.36,434.25 161.96,434.25" fill="#fff" stroke="#3a3a3a" stroke-width="1.1" stroke-linejoin="miter"/>
<polygon points="164.49,425.45 160.19,432.25 168.79,432.25" fill="#fff" stroke="#3a3a3a" stroke-width="1.1" stroke-linejoin="miter"/>
<polygon points="171.32,426.45 167.02,433.25 175.62,433.25" fill="#fff" stroke="#3a3a3a" stroke-width="1.1" stroke-linejoin="miter"/>
<polygon points="178.15,424.95 173.85,431.75 182.45,431.75" fill="#fff" stroke="#3a3a3a" stroke-width="1.1" stroke-linejoin="miter"/>
<polygon points="184.98,421.45 180.68,428.25 189.28,428.25" fill="#fff" stroke="#3a3a3a" stroke-width="1.1" stroke-linejoin="miter"/>
<polygon points="191.81,424.45 187.51,431.25 196.11,431.25" fill="#fff" stroke="#3a3a3a" stroke-width="1.1" stroke-linejoin="miter"/>
<polygon points="198.64,424.95 194.34,431.75 202.94,431.75" fill="#fff" stroke="#3a3a3a" stroke-width="1.1" stroke-linejoin="miter"/>
<polygon points="205.47,426.45 201.17,433.25 209.77,433.25" fill="#fff" stroke="#3a3a3a" stroke-width="1.1" stroke-linejoin="miter"/>
<polygon points="212.31,434.25 208.01,441.05 216.61,441.05" fill="#fff" stroke="#3a3a3a" stroke-width="1.1" stroke-linejoin="miter"/>
<polygon points="219.14,423.95 214.84,430.75 223.44,430.75" fill="#fff" stroke="#3a3a3a" stroke-width="1.1" stroke-linejoin="miter"/>
<polygon points="225.97,440.75 221.67,447.55 230.27,447.55" fill="#fff" stroke="#3a3a3a" stroke-width="1.1" stroke-linejoin="miter"/>
<polygon points="232.8,435.35 228.5,442.15 237.1,442.15" fill="#fff" stroke="#3a3a3a" stroke-width="1.1" stroke-linejoin="miter"/>
<polygon points="239.63,426.05 235.33,432.85 243.93,432.85" fill="#fff" stroke="#3a3a3a" stroke-width="1.1" stroke-linejoin="miter"/>
<polygon points="246.46,435.35 242.16,442.15 250.76,442.15" fill="#fff" stroke="#3a3a3a" stroke-width="1.1" stroke-linejoin="miter"/>
<polygon points="253.29,421.25 248.99,428.05 257.59,428.05" fill="#fff" stroke="#3a3a3a" stroke-width="1.1" stroke-linejoin="miter"/>
<polygon points="260.12,432.45 255.82,439.25 264.42,439.25" fill="#fff" stroke="#3a3a3a" stroke-width="1.1" stroke-linejoin="miter"/>
<polygon points="266.96,433.05 262.66,439.85 271.26,439.85" fill="#fff" stroke="#3a3a3a" stroke-width="1.1" stroke-linejoin="miter"/>
<polygon points="273.79,427.05 269.49,433.85 278.09,433.85" fill="#fff" stroke="#3a3a3a" stroke-width="1.1" stroke-linejoin="miter"/>
<polygon points="280.62,432.05 276.32,438.85 284.92,438.85" fill="#fff" stroke="#3a3a3a" stroke-width="1.1" stroke-linejoin="miter"/>
<polygon points="287.45,428.55 283.15,435.35 291.75,435.35" fill="#fff" stroke="#3a3a3a" stroke-width="1.1" stroke-linejoin="miter"/>
<polygon points="294.28,428.55 289.98,435.35 298.58,435.35" fill="#fff" stroke="#3a3a3a" stroke-width="1.1" stroke-linejoin="miter"/>
<polygon points="301.11,418.35 296.81,425.15 305.41,425.15" fill="#fff" stroke="#3a3a3a" stroke-width="1.1" stroke-linejoin="miter"/>
<polygon points="307.94,429.85 303.64,436.65 312.24,436.65" fill="#fff" stroke="#3a3a3a" stroke-width="1.1" stroke-linejoin="miter"/>
<polygon points="314.77,439.55 310.47,446.35 319.07,446.35" fill="#fff" stroke="#3a3a3a" stroke-width="1.1" stroke-linejoin="miter"/>
<polygon points="321.6,457.75 317.3,464.55 325.9,464.55" fill="#fff" stroke="#3a3a3a" stroke-width="1.1" stroke-linejoin="miter"/>
<polygon points="328.44,468.75 324.14,475.55 332.74,475.55" fill="#fff" stroke="#3a3a3a" stroke-width="1.1" stroke-linejoin="miter"/>
<polygon points="335.27,485.25 330.97,492.05 339.57,492.05" fill="#fff" stroke="#3a3a3a" stroke-width="1.1" stroke-linejoin="miter"/>
<polygon points="342.1,511.05 337.8,517.85 346.4,517.85" fill="#fff" stroke="#3a3a3a" stroke-width="1.1" stroke-linejoin="miter"/>
<polygon points="348.93,503.35 344.63,510.15 353.23,510.15" fill="#fff" stroke="#3a3a3a" stroke-width="1.1" stroke-linejoin="miter"/>
<polygon points="355.76,544.55 351.46,551.35 360.06,551.35" fill="#fff" stroke="#3a3a3a" stroke-width="1.1" stroke-linejoin="miter"/>
<polygon points="362.59,568.25 358.29,575.05 366.89,575.05" fill="#fff" stroke="#3a3a3a" stroke-width="1.1" stroke-linejoin="miter"/>
<polygon points="369.42,587.55 365.12,594.35 373.72,594.35" fill="#fff" stroke="#3a3a3a" stroke-width="1.1" stroke-linejoin="miter"/>
<polygon points="376.25,609.05 371.95,615.85 380.55,615.85" fill="#fff" stroke="#3a3a3a" stroke-width="1.1" stroke-linejoin="miter"/>
<polygon points="383.09,590.25 378.79,597.05 387.39,597.05" fill="#fff" stroke="#3a3a3a" stroke-width="1.1" stroke-linejoin="miter"/>
<polygon points="389.92,614.05 385.62,620.85 394.22,620.85" fill="#fff" stroke="#3a3a3a" stroke-width="1.1" stroke-linejoin="miter"/>
<polygon points="396.75,616.05 392.45,622.85 401.05,622.85" fill="#fff" stroke="#3a3a3a" stroke-width="1.1" stroke-linejoin="miter"/>
<polygon points="403.58,615.05 399.28,621.85 407.88,621.85" fill="#fff" stroke="#3a3a3a" stroke-width="1.1" stroke-linejoin="miter"/>
<polygon points="410.41,614.05 406.11,620.85 414.71,620.85" fill="#fff" stroke="#3a3a3a" stroke-width="1.1" stroke-linejoin="miter"/>
<polygon points="417.24,619.95 412.94,626.75 421.54,626.75" fill="#fff" stroke="#3a3a3a" stroke-width="1.1" stroke-linejoin="miter"/>
<polygon points="424.07,607.75 419.77,614.55 428.37,614.55" fill="#fff" stroke="#3a3a3a" stroke-width="1.1" stroke-linejoin="miter"/>
<polygon points="430.9,612.05 426.6,618.85 435.2,618.85" fill="#fff" stroke="#3a3a3a" stroke-width="1.1" stroke-linejoin="miter"/>
<polygon points="137.16,431.3 131.96,439.5 142.36,439.5" fill="#505050"/>
<polygon points="143.99,439.8 138.79,448 149.19,448" fill="#505050"/>
<polygon points="150.82,429.3 145.62,437.5 156.02,437.5" fill="#505050"/>
<polygon points="157.66,426.3 152.46,434.5 162.86,434.5" fill="#505050"/>
<polygon points="164.49,424.3 159.29,432.5 169.69,432.5" fill="#505050"/>
<polygon points="171.32,425.3 166.12,433.5 176.52,433.5" fill="#505050"/>
<polygon points="178.15,423.8 172.95,432 183.35,432" fill="#505050"/>
<polygon points="184.98,420.3 179.78,428.5 190.18,428.5" fill="#505050"/>
<polygon points="191.81,423.3 186.61,431.5 197.01,431.5" fill="#505050"/>
<polygon points="198.64,423.8 193.44,432 203.84,432" fill="#505050"/>
<polygon points="205.47,425.3 200.27,433.5 210.67,433.5" fill="#505050"/>
<polygon points="212.31,433.9 207.11,442.1 217.51,442.1" fill="#505050"/>
<polygon points="219.14,427.3 213.94,435.5 224.34,435.5" fill="#505050"/>
<polygon points="225.97,425.3 220.77,433.5 231.17,433.5" fill="#505050"/>
<polygon points="232.8,426.3 227.6,434.5 238,434.5" fill="#505050"/>
<polygon points="239.63,425.3 234.43,433.5 244.83,433.5" fill="#505050"/>
<polygon points="246.46,427.3 241.26,435.5 251.66,435.5" fill="#505050"/>
<polygon points="253.29,426.3 248.09,434.5 258.49,434.5" fill="#505050"/>
<polygon points="260.12,431.3 254.92,439.5 265.32,439.5" fill="#505050"/>
<polygon points="266.96,431.9 261.76,440.1 272.16,440.1" fill="#505050"/>
<polygon points="273.79,423.3 268.59,431.5 278.99,431.5" fill="#505050"/>
<polygon points="280.62,447.3 275.42,455.5 285.82,455.5" fill="#505050"/>
<polygon points="287.45,451.3 282.25,459.5 292.65,459.5" fill="#505050"/>
<polygon points="294.28,463.3 289.08,471.5 299.48,471.5" fill="#505050"/>
<polygon points="301.11,479.7 295.91,487.9 306.31,487.9" fill="#505050"/>
<polygon points="307.94,483 302.74,491.2 313.14,491.2" fill="#505050"/>
<polygon points="314.77,510.1 309.57,518.3 319.97,518.3" fill="#505050"/>
<polygon points="321.6,528.3 316.4,536.5 326.8,536.5" fill="#505050"/>
<polygon points="328.44,541.6 323.24,549.8 333.64,549.8" fill="#505050"/>
<polygon points="335.27,586.8 330.07,595 340.47,595" fill="#505050"/>
<polygon points="342.1,582.8 336.9,591 347.3,591" fill="#505050"/>
<polygon points="348.93,594.9 343.73,603.1 354.13,603.1" fill="#505050"/>
<polygon points="355.76,604.3 350.56,612.5 360.96,612.5" fill="#505050"/>
<polygon points="362.59,609.3 357.39,617.5 367.79,617.5" fill="#505050"/>
<polygon points="369.42,607.3 364.22,615.5 374.62,615.5" fill="#505050"/>
<polygon points="376.25,590.9 371.05,599.1 381.45,599.1" fill="#505050"/>
<polygon points="383.09,620.3 377.89,628.5 388.29,628.5" fill="#505050"/>
<polygon points="389.92,607 384.72,615.2 395.12,615.2" fill="#505050"/>
<polygon points="396.75,625.9 391.55,634.1 401.95,634.1" fill="#505050"/>
<polygon points="403.58,615.1 398.38,623.3 408.78,623.3" fill="#505050"/>
<polygon points="410.41,607 405.21,615.2 415.61,615.2" fill="#505050"/>
<polygon points="417.24,600.3 412.04,608.5 422.44,608.5" fill="#505050"/>
<polygon points="424.07,620.5 418.87,628.7 429.27,628.7" fill="#505050"/>
<polygon points="430.9,611.1 425.7,619.3 436.1,619.3" fill="#505050"/>
<path d="M123.5 413.2 V636.6 H431.5" fill="none" stroke="#161616" stroke-width="1.3"/>
<path d="M123.5 413.8h4.3M123.5 423.2h4.3M123.5 432.6h6.5M123.5 441.82h4.3M123.5 451.05h4.3M123.5 460.27h4.3M123.5 469.5h6.5M123.5 478.85h4.3M123.5 488.2h4.3M123.5 497.55h4.3M123.5 506.9h6.5M123.5 516.05h4.3M123.5 525.2h4.3M123.5 534.35h4.3M123.5 543.5h6.5M123.5 552.75h4.3M123.5 562h4.3M123.5 571.25h4.3M123.5 580.5h6.5M123.5 589.88h4.3M123.5 599.25h4.3M123.5 608.62h4.3M123.5 618h6.5M123.5 627.3h4.3M123.5 636.6v-5.8M140.58 636.6v-3.2M157.66 636.6v-3.2M174.73 636.6v-3.2M191.81 636.6v-5.8M208.89 636.6v-3.2M225.97 636.6v-3.2M243.05 636.6v-3.2M260.12 636.6v-5.8M277.2 636.6v-3.2M294.28 636.6v-3.2M311.36 636.6v-3.2M328.44 636.6v-5.8M345.51 636.6v-3.2M362.59 636.6v-3.2M379.67 636.6v-3.2M396.75 636.6v-5.8M413.83 636.6v-3.2M430.9 636.6v-3.2" fill="none" stroke="#161616" stroke-width="1.3"/>
<text x="116.1" y="440.9" text-anchor="end" class="t156">1</text>
<text x="117.4" y="477.8" text-anchor="end" class="t156">0.8</text>
<text x="117.4" y="515.2" text-anchor="end" class="t156">0.6</text>
<text x="117.4" y="551.8" text-anchor="end" class="t156">0.4</text>
<text x="117.4" y="588.8" text-anchor="end" class="t156">0.2</text>
<text x="116.1" y="626.3" text-anchor="end" class="t156">0</text>
<text x="124.3" y="657.4" text-anchor="middle" class="t156">0</text>
<text x="192.61" y="657.4" text-anchor="middle" class="t156">20</text>
<text x="260.92" y="657.4" text-anchor="middle" class="t156">40</text>
<text x="329.24" y="657.4" text-anchor="middle" class="t156">60</text>
<text x="397.55" y="657.4" text-anchor="middle" class="t156">80</text>
<text x="286.5" y="676" text-anchor="middle" class="t17x">Temperature (<tspan font-size="15.5" dy="-0.2">°</tspan><tspan dy="0.2">C)</tspan></text>
<text transform="translate(85.3 502.1) rotate(-90)" text-anchor="middle" class="t168">Fraction Folded</text>
<text x="1.1" y="430.7" class="panel" font-size="25.6">B</text>
</g>
<g id="panelC">
<path d="M76 772.1H514.4M76 808H514.4M76 843.9H514.4M76 879.8H514.4M76 915.7H514.4M76 951.6H514.4M76 987.5H514.4" fill="none" stroke="#d2d2d2" stroke-width="1"/>
<path d="M76 736.2H80.5M76 1023.4H80.5M80.5 1023.4v4M189.22 1023.4v4M297.95 1023.4v4M406.67 1023.4v4M515.4 1023.4v4" fill="none" stroke="#bdbdbd" stroke-width="1"/>
<rect x="80.5" y="736.2" width="434.9" height="287.2" fill="none" stroke="#8a8a8a" stroke-width="1"/>
<rect x="113.4" y="761.6" width="43.8" height="261.8" fill="#999" stroke="#2e2e2e" stroke-width="1"/>
<rect x="222.2" y="999.5" width="43.8" height="23.9" fill="#999" stroke="#2e2e2e" stroke-width="1"/>
<rect x="331.1" y="840.5" width="43.8" height="182.9" fill="#999" stroke="#2e2e2e" stroke-width="1"/>
<rect x="439.7" y="775.3" width="43.8" height="248.1" fill="#999" stroke="#2e2e2e" stroke-width="1"/>
<text x="69.2" y="741.2" text-anchor="end" class="t137">400000</text>
<text x="69.2" y="777.1" text-anchor="end" class="t137">350000</text>
<text x="69.2" y="813" text-anchor="end" class="t137">300000</text>
<text x="69.2" y="848.9" text-anchor="end" class="t137">250000</text>
<text x="69.2" y="884.8" text-anchor="end" class="t137">200000</text>
<text x="69.2" y="920.7" text-anchor="end" class="t137">150000</text>
<text x="69.2" y="956.6" text-anchor="end" class="t137">100000</text>
<text x="69.2" y="992.5" text-anchor="end" class="t137">50000</text>
<text x="69.2" y="1028.4" text-anchor="end" class="t137" style="font-weight:normal;font-size:14.2px">0</text>
<text x="141.3" y="1052.4" text-anchor="middle" class="t165">ALMC-1</text>
<text x="250.8" y="1052.4" text-anchor="middle" class="t165">ALMC-2</text>
<text x="359.2" y="1052.4" text-anchor="middle" class="t165">ALMC-1</text>
<text x="359.7" y="1069.7" text-anchor="middle" class="t165">Na<tspan dy="4.5" font-size="12">2</tspan><tspan dy="-4.5">SO</tspan><tspan dy="4.5" font-size="12">4</tspan></text>
<text x="468.4" y="1052.4" text-anchor="middle" class="t165">ALMC-2</text>
<text x="468.9" y="1069.7" text-anchor="middle" class="t165">Na<tspan dy="4.5" font-size="12">2</tspan><tspan dy="-4.5">SO</tspan><tspan dy="4.5" font-size="12">4</tspan></text>
<text transform="translate(14.5 882.4) rotate(-90) scale(1.068 1)" text-anchor="middle" class="t1375">Thioflavine T Fluorescence Enhancement (a.u.)</text>
<text x="0.6" y="710.7" class="panel" font-size="25.2">C</text>
</g>
</svg></body></html>
